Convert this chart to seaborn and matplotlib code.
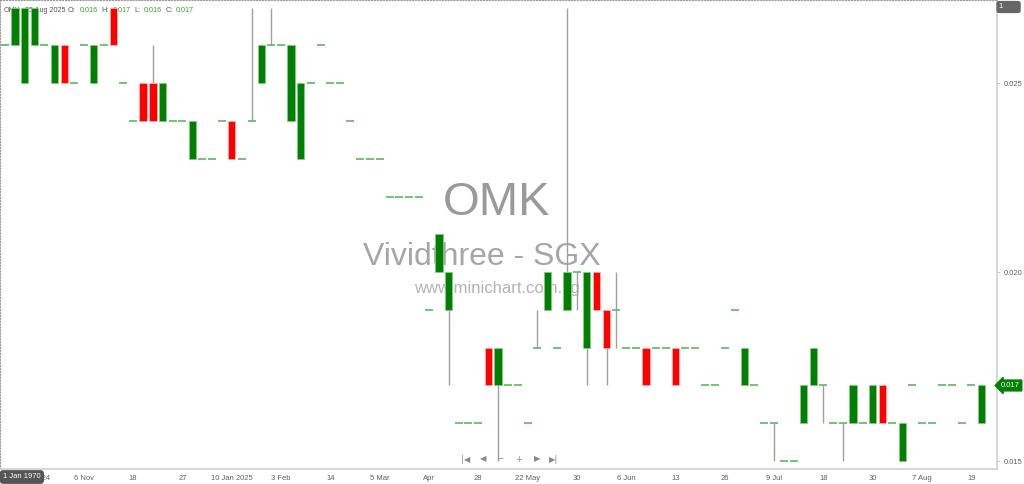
import numpy as np
import pandas as pd
import seaborn as sns
import matplotlib.pyplot as plt
from matplotlib.transforms import blended_transform_factory

# daily bars (only days with trades), oldest first
opens = [0.026, 0.026, 0.025, 0.026, 0.026, 0.025, 0.026, 0.025, 0.026, 0.025,
         0.026, 0.027, 0.025, 0.024, 0.025, 0.025, 0.024, 0.024, 0.024, 0.023,
         0.023, 0.023, 0.024, 0.024, 0.023, 0.024, 0.025, 0.026, 0.026, 0.024,
         0.023, 0.025, 0.026, 0.025, 0.025, 0.024, 0.023, 0.023, 0.023, 0.022,
         0.022, 0.022, 0.022, 0.019, 0.020, 0.019, 0.016, 0.016, 0.016, 0.018,
         0.017, 0.017, 0.017, 0.016, 0.018, 0.019, 0.018, 0.019, 0.020, 0.018,
         0.020, 0.019, 0.019, 0.018, 0.018, 0.018, 0.018, 0.018, 0.018, 0.018,
         0.018, 0.017, 0.017, 0.018, 0.019, 0.017, 0.017, 0.016, 0.016, 0.015,
         0.015, 0.016, 0.017, 0.017, 0.016, 0.016, 0.016, 0.016, 0.016, 0.017,
         0.016, 0.015, 0.017, 0.016, 0.016, 0.017, 0.017, 0.016, 0.017, 0.016]
highs = [0.026, 0.027, 0.027, 0.027, 0.026, 0.026, 0.026, 0.025, 0.026, 0.026,
         0.026, 0.027, 0.025, 0.024, 0.025, 0.026, 0.025, 0.024, 0.024, 0.024,
         0.023, 0.023, 0.024, 0.024, 0.023, 0.027, 0.026, 0.027, 0.026, 0.026,
         0.025, 0.025, 0.026, 0.025, 0.025, 0.024, 0.023, 0.023, 0.023, 0.022,
         0.022, 0.022, 0.022, 0.019, 0.021, 0.020, 0.016, 0.016, 0.016, 0.018,
         0.018, 0.017, 0.017, 0.016, 0.019, 0.020, 0.018, 0.027, 0.020, 0.020,
         0.020, 0.019, 0.020, 0.018, 0.018, 0.018, 0.018, 0.018, 0.018, 0.018,
         0.018, 0.017, 0.017, 0.018, 0.019, 0.018, 0.017, 0.016, 0.016, 0.015,
         0.015, 0.017, 0.018, 0.017, 0.016, 0.016, 0.017, 0.016, 0.017, 0.017,
         0.016, 0.016, 0.017, 0.016, 0.016, 0.017, 0.017, 0.016, 0.017, 0.017]
lows = [0.026, 0.026, 0.025, 0.026, 0.026, 0.025, 0.025, 0.025, 0.026, 0.025,
        0.026, 0.026, 0.025, 0.024, 0.024, 0.024, 0.024, 0.024, 0.024, 0.023,
        0.023, 0.023, 0.024, 0.023, 0.023, 0.024, 0.025, 0.026, 0.026, 0.024,
        0.023, 0.025, 0.026, 0.025, 0.025, 0.024, 0.023, 0.023, 0.023, 0.022,
        0.022, 0.022, 0.022, 0.019, 0.020, 0.017, 0.016, 0.016, 0.016, 0.017,
        0.015, 0.017, 0.017, 0.016, 0.018, 0.019, 0.018, 0.019, 0.019, 0.017,
        0.019, 0.017, 0.018, 0.018, 0.018, 0.017, 0.018, 0.018, 0.017, 0.018,
        0.018, 0.017, 0.017, 0.018, 0.019, 0.017, 0.017, 0.016, 0.015, 0.015,
        0.015, 0.016, 0.017, 0.016, 0.016, 0.015, 0.016, 0.016, 0.016, 0.016,
        0.016, 0.015, 0.017, 0.016, 0.016, 0.017, 0.017, 0.016, 0.017, 0.016]
closes = [0.026, 0.027, 0.027, 0.027, 0.026, 0.026, 0.025, 0.025, 0.026, 0.026,
          0.026, 0.026, 0.025, 0.024, 0.024, 0.024, 0.025, 0.024, 0.024, 0.024,
          0.023, 0.023, 0.024, 0.023, 0.023, 0.024, 0.026, 0.026, 0.026, 0.026,
          0.025, 0.025, 0.026, 0.025, 0.025, 0.024, 0.023, 0.023, 0.023, 0.022,
          0.022, 0.022, 0.022, 0.019, 0.021, 0.020, 0.016, 0.016, 0.016, 0.017,
          0.018, 0.017, 0.017, 0.016, 0.018, 0.020, 0.018, 0.020, 0.020, 0.020,
          0.019, 0.018, 0.019, 0.018, 0.018, 0.017, 0.018, 0.018, 0.017, 0.018,
          0.018, 0.017, 0.017, 0.018, 0.019, 0.018, 0.017, 0.016, 0.016, 0.015,
          0.015, 0.017, 0.018, 0.017, 0.016, 0.016, 0.017, 0.016, 0.017, 0.016,
          0.016, 0.016, 0.017, 0.016, 0.016, 0.017, 0.017, 0.016, 0.017, 0.017]

# x axis labels: bar number -> label
tick_bars = [3, 8, 13, 18, 23, 28, 33, 38, 43, 48, 53, 58, 63, 68, 73, 78, 83, 88, 93, 98]
tick_labels = ['Oct 2024', '6 Nov', '18', '27', '10 Jan 2025', '3 Feb', '14', '5 Mar', 'Apr', '28',
               '22 May', '30', '6 Jun', '13', '26', '9 Jul', '18', '30', '7 Aug', '19']
price_ticks = [0.015, 0.020, 0.025]

symbol = 'OMK'
company = 'Vividthree - SGX'
site = 'www.minichart.com.sg'
last_date = '25 Aug 2025'

sns.set_style('white')
plt.rcParams['font.family'] = ['Liberation Sans', 'DejaVu Sans']

df = pd.DataFrame({'o': opens, 'h': highs, 'l': lows, 'c': closes})
df['bar'] = np.arange(len(df))
bodies = df[df['o'] != df['c']]
dojis = df[df['o'] == df['c']]
wicks = df[df['h'] > df['l']]

GREEN = '#008000'
RED = '#ff0000'

fig = plt.figure(figsize=(10.24, 4.84), dpi=100)
ax = fig.add_axes([0, 15 / 484, 997 / 1024, 469 / 484])

# watermark behind everything
ax.text(497 / 1024, 1 - 203 / 484, symbol, transform=fig.transFigure, ha='center', va='center',
        fontsize=34, color='#9a9a9a', zorder=0.5)
ax.text(482 / 1024, 1 - 257 / 484, company, transform=fig.transFigure, ha='center', va='center',
        fontsize=23, color='#a6a6a6', zorder=0.5)
ax.text(497 / 1024, 1 - 289 / 484, site, transform=fig.transFigure, ha='center', va='center',
        fontsize=12, color='#b3b3b3', zorder=0.5)

# header line
last = df.iloc[-1]
hdr = [(4, symbol, '#555555'), (25, last_date, '#555555'),
       (68, 'O:', '#555555'), (80, f'{last.o:.3f}', '#3c9a3c'),
       (101, 'H:', '#555555'), (113, f'{last.h:.3f}', '#3c9a3c'),
       (134, 'L:', '#555555'), (144, f'{last.l:.3f}', '#3c9a3c'),
       (166, 'C:', '#555555'), (176, f'{last.c:.3f}', '#3c9a3c')]
for px, txt, col in hdr:
    ax.text(px / 1024, 1 - 11 / 484, txt, transform=fig.transFigure, ha='left', va='center',
            fontsize=5.2, color=col, zorder=0.8)

# wicks
ax.vlines(wicks['bar'], wicks['l'], wicks['h'], color='#a0a0a0', linewidth=1, zorder=2)

# bodies
cols = [GREEN if c > o else RED for o, c in zip(bodies['o'], bodies['c'])]
edges = ['#8cc78c' if c > o else '#ffb0b0' for o, c in zip(bodies['o'], bodies['c'])]
ax.bar(bodies['bar'], bodies['c'] - bodies['o'], bottom=bodies['o'], width=0.74,
       color=cols, edgecolor=edges, linewidth=0.6, zorder=3)

# flat days as short dashes
sns.scatterplot(data=dojis, x='bar', y='c', marker='_', s=30, color='#5cb85c',
                linewidth=1.2, ax=ax, zorder=3, legend=False)

ax.set_xlim(-0.507, 100.6)
ax.set_ylim(0.01479, 0.02720)
ax.set_xlabel('')
ax.set_ylabel('')

ax.set_xticks(tick_bars)
ax.set_xticklabels(tick_labels)
ax.tick_params(axis='x', direction='out', length=2.5, width=0.6, color='#bbbbbb',
               labelsize=5.5, labelcolor='#606060', pad=2)
ax.yaxis.tick_right()
ax.set_yticks(price_ticks)
ax.set_yticklabels([f'{v:.3f}' for v in price_ticks])
ax.tick_params(axis='y', direction='out', length=2.5, width=0.6, color='#bbbbbb',
               labelsize=5.5, labelcolor='#606060', pad=2)

for side in ['left', 'top']:
    ax.spines[side].set_linestyle(':')
    ax.spines[side].set_color('#999999')
    ax.spines[side].set_linewidth(0.8)
for side in ['right', 'bottom']:
    ax.spines[side].set_color('#d0d0d0')
    ax.spines[side].set_linewidth(1.2)

# last price tag on the price scale
tr = blended_transform_factory(ax.transAxes, ax.transData)
ax.text(1.004, closes[-1], f'{closes[-1]:.3f}', transform=tr, ha='left', va='center',
        fontsize=5.5, color='white', clip_on=False, zorder=6,
        bbox=dict(boxstyle='larrow,pad=0.25', fc=GREEN, ec=GREEN))

# panel number box
fig.text(999 / 1024, 1 - 7 / 484, '1       ', ha='left', va='center', fontsize=5.5, color='white',
         bbox=dict(boxstyle='round,pad=0.25', fc='#666666', ec='#666666'))

# crosshair date box
fig.text(3 / 1024, 1 - 477 / 484, '1 Jan 1970', ha='left', va='center', fontsize=5.5, color='white',
         bbox=dict(boxstyle='round,pad=0.35', fc='#555555', ec='#555555'), zorder=10)

# navigation buttons
for px, sym in [(466, '|◀'), (483, '◀'), (500, '−'), (519, '+'), (537, '▶'), (554, '▶|')]:
    fig.text(px / 1024, 1 - 459 / 484, sym, ha='center', va='center', fontsize=6,
             color='#888888', family=['DejaVu Sans'])

fig.savefig('out.png', dpi=100)
